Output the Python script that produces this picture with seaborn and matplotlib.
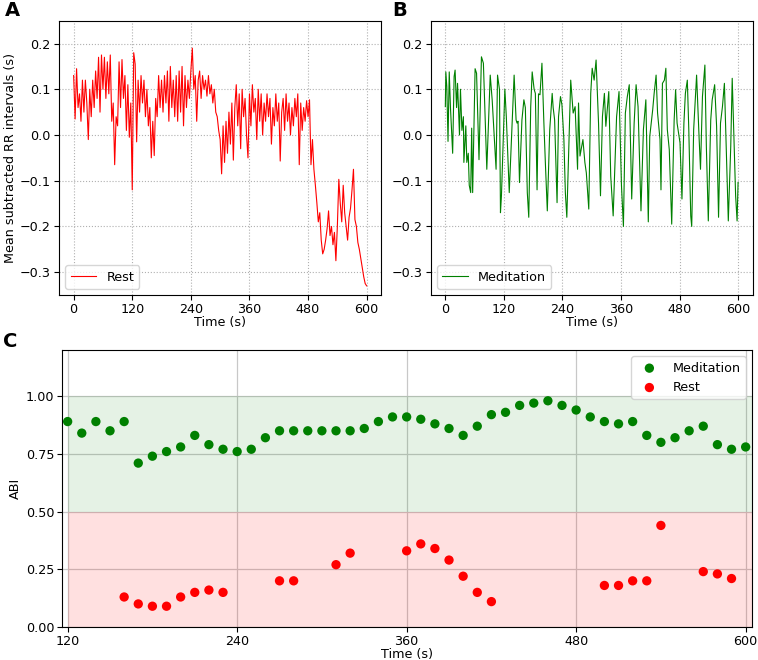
import numpy as np
import pandas as pd
import matplotlib
matplotlib.use("Agg")
import matplotlib.pyplot as plt
import seaborn as sns

# ---------------- data ----------------
rest_time = np.arange(0, 601, 3)
rest_rr = [
    0.13, 0.035, 0.145, 0.06, 0.09, 0.03, 0.12, 0.05, 0.12, 0.07,
    -0.01, 0.10, 0.04, 0.12, 0.06, 0.14, 0.08, 0.17, 0.05, 0.175,
    0.10, 0.17, 0.08, 0.16, 0.09, 0.175, 0.03, 0.07, -0.065, 0.04,
    0.02, 0.16, 0.06, 0.165, 0.08, 0.13, 0.01, 0.11, -0.005, 0.07,
    -0.12, 0.18, 0.155, -0.015, 0.12, 0.05, 0.13, 0.07, 0.12, 0.04,
    0.10, 0.02, 0.06, -0.05, 0.03, -0.045, 0.08, 0.04, 0.13, 0.06,
    0.12, 0.05, 0.13, 0.07, 0.14, 0.03, 0.15, 0.06, 0.12, 0.04,
    0.13, 0.03, 0.14, 0.05, 0.15, 0.02, 0.13, 0.06, 0.12, 0.08,
    0.14, 0.19, 0.10, 0.13, 0.03, 0.12, 0.14, 0.08, 0.13, 0.10,
    0.12, 0.085, 0.13, 0.09, 0.11, 0.07, 0.10, 0.05, 0.04, 0.01,
    -0.01, -0.085, 0.02, -0.06, 0.03, -0.04, 0.05, -0.02, 0.07, -0.055,
    0.06, 0.11, 0.02, 0.09, -0.03, 0.10, 0.04, 0.08, 0.0, -0.05,
    0.09, 0.02, 0.11, 0.05, 0.08, -0.01, 0.10, 0.03, 0.09, 0.0,
    0.07, 0.03, 0.09, 0.04, 0.08, -0.02, 0.06, 0.02, 0.09, 0.03,
    0.07, -0.057, 0.05, 0.08, 0.01, 0.09, 0.03, 0.07, 0.0, 0.06,
    0.02, 0.08, 0.04, 0.09, -0.065, 0.07, 0.01, 0.06, 0.03, 0.075,
    0.04, 0.077, -0.065, -0.01, -0.075, -0.11, -0.148, -0.19, -0.17, -0.23,
    -0.26, -0.25, -0.23, -0.205, -0.166, -0.22, -0.2, -0.24, -0.213, -0.275,
    -0.2, -0.097, -0.15, -0.19, -0.11, -0.17, -0.2, -0.23, -0.18, -0.16,
    -0.12, -0.075, -0.185, -0.2, -0.235, -0.25, -0.27, -0.29, -0.31, -0.325,
    -0.33,
]

med_time = [0, 1, 3, 5.5, 8, 10.5, 15, 18, 20, 23, 25, 29, 31, 34, 37, 38, 42, 44, 47, 49,
            52, 54, 56, 61, 64, 69, 74, 78, 85, 92, 96, 104, 107, 111, 113, 115, 122, 125, 131, 141,
            145, 147, 149, 152, 157, 161, 164, 168, 171, 175, 178, 182, 184.5, 188, 191, 194, 198, 202, 205, 209,
            214, 219, 221, 224, 229, 232, 236, 239, 243, 246, 249, 257, 262, 266, 271, 273, 276, 282, 286, 289,
            294, 298, 301, 305, 309, 312, 314, 318, 322, 326, 329, 333, 335, 339, 344, 351, 356, 361, 365, 369,
            373, 377, 382, 387, 391, 395, 401, 406, 411, 416, 419, 425, 428, 432, 435, 440, 442, 445, 449, 452,
            455, 459, 464, 469, 472, 475, 481, 485, 489, 492, 496, 499, 503, 505, 509, 515, 520, 523, 527, 532,
            535, 539, 544, 547, 552, 556, 560, 564, 568, 572, 576, 580, 585, 588, 591, 595, 598, 600]
med_rr = [0.062, 0.138, 0.106, -0.014, 0.138, 0.06, -0.04, 0.128, 0.142, 0.06, 0.113, 0.0, 0.1, 0.01, 0.04, -0.06, 0.02, -0.06, -0.04, -0.11,
          -0.126, 0.015, -0.126, 0.145, 0.135, -0.054, 0.171, 0.157, -0.075, 0.131, 0.077, -0.075, 0.131, 0.099, -0.17, -0.133, 0.1, 0.04, -0.126, 0.131,
          0.033, 0.026, 0.03, -0.104, 0.033, 0.077, 0.06, -0.126, -0.18, 0.062, 0.138, 0.1, 0.091, -0.12, 0.09, 0.088, 0.157, 0.026, -0.06, -0.166,
          0.012, 0.091, 0.06, 0.033, -0.148, 0.04, 0.084, 0.066, -0.01, -0.126, -0.18, 0.12, 0.048, 0.062, -0.075, 0.07, -0.046, -0.01, -0.06, -0.083,
          -0.162, 0.091, 0.146, 0.12, 0.164, 0.084, 0.026, -0.133, 0.04, 0.091, 0.019, 0.07, 0.095, -0.09, -0.177, 0.04, 0.095, -0.11, -0.2, 0.048,
          0.084, 0.11, -0.14, 0.026, 0.11, 0.062, -0.166, 0.012, 0.077, -0.19, -0.003, 0.055, 0.091, 0.131, 0.048, -0.01, -0.12, 0.113, 0.12, 0.146,
          0.012, -0.032, -0.195, 0.033, 0.099, 0.026, -0.017, -0.14, 0.026, 0.091, 0.12, 0.012, -0.177, -0.2, 0.012, 0.131, -0.003, -0.075, 0.084, 0.153,
          -0.025, -0.188, 0.033, 0.077, 0.11, 0.019, -0.18, 0.026, 0.062, 0.113, -0.04, -0.188, -0.025, 0.124, 0.012, -0.133, -0.188, -0.104]

abi_time = list(range(120, 601, 10))
abi_meditation = [0.89, 0.84, 0.89, 0.85, 0.89, 0.71, 0.74, 0.76, 0.78, 0.83,
                  0.79, 0.77, 0.76, 0.77, 0.82, 0.85, 0.85, 0.85, 0.85, 0.85,
                  0.85, 0.86, 0.89, 0.91, 0.91, 0.90, 0.88, 0.86, 0.83, 0.87,
                  0.92, 0.93, 0.96, 0.97, 0.98, 0.96, 0.94, 0.91, 0.89, 0.88,
                  0.89, 0.83, 0.80, 0.82, 0.85, 0.87, 0.79, 0.77, 0.78]
nan = np.nan
abi_rest = [nan, nan, nan, nan, 0.13, 0.10, 0.09, 0.09, 0.13, 0.15,
            0.16, 0.15, nan, nan, nan, 0.20, 0.20, nan, nan, 0.27,
            0.32, nan, nan, nan, 0.33, 0.36, 0.34, 0.29, 0.22, 0.15,
            0.11, nan, nan, nan, nan, nan, nan, nan, 0.18, 0.18,
            0.20, 0.20, 0.44, nan, nan, 0.24, 0.23, 0.21, nan]

time_ticks = [0, 120, 240, 360, 480, 600]
abi_ticks = [120, 240, 360, 480, 600]

# ---------------- figure ----------------
W, H = 758, 660
fig = plt.figure(figsize=(W / 100, H / 100), dpi=100)

def px_axes(l, t, r, b):
    return fig.add_axes([l / W, 1 - b / H, (r - l) / W, (b - t) / H])

axA = px_axes(59, 20.7, 381.3, 295)
axB = px_axes(430.7, 20.7, 752.7, 295)
axC = px_axes(62, 350, 752, 627)

FS = 9.2

dfA = pd.DataFrame({"t": rest_time, "rr": rest_rr})
dfB = pd.DataFrame({"t": med_time, "rr": med_rr})

sns.lineplot(data=dfA, x="t", y="rr", ax=axA, color="red", lw=0.8, label="Rest")
sns.lineplot(data=dfB, x="t", y="rr", ax=axB, color="green", lw=0.8, label="Meditation")

for ax in (axA, axB):
    ax.set_xlim(-30, 630)
    ax.set_ylim(-0.35, 0.25)
    ax.set_xticks(time_ticks)
    ax.set_yticks([-0.3, -0.2, -0.1, 0.0, 0.1, 0.2])
    ax.grid(True, linestyle=":", color="#b0b0b0", linewidth=0.8)
    ax.set_axisbelow(True)
    ax.set_xlabel("Time (s)", fontsize=FS, labelpad=0)
    ax.tick_params(labelsize=FS, pad=2.5)
    ax.legend(loc="lower left", fontsize=FS)
axA.set_ylabel("Mean subtracted RR intervals (s)", fontsize=FS, labelpad=2)
axB.set_ylabel("")

# panel C
axC.fill_between([120, 604.5], 0.5, 1.0, color="green", alpha=0.1, lw=0)
axC.fill_between([120, 604.5], 0.0, 0.5, color="red", alpha=0.12, lw=0)
dfC = pd.DataFrame({"t": abi_time, "Meditation": abi_meditation, "Rest": abi_rest})
sns.scatterplot(data=dfC, x="t", y="Meditation", ax=axC, color="green", s=45,
                edgecolor="none", label="Meditation", zorder=3)
sns.scatterplot(data=dfC.dropna(), x="t", y="Rest", ax=axC, color="red", s=45,
                edgecolor="none", label="Rest", zorder=3)
axC.set_xlim(116, 604.5)
axC.set_ylim(0, 1.2)
axC.set_xticks(abi_ticks)
axC.set_yticks([0.0, 0.25, 0.5, 0.75, 1.0])
axC.set_yticklabels(["0.00", "0.25", "0.50", "0.75", "1.00"])
axC.grid(True, color="#c8c8c8", linewidth=0.9)
axC.set_axisbelow(True)
axC.set_xlabel("Time (s)", fontsize=FS, labelpad=0)
axC.set_ylabel("ABI", fontsize=FS, labelpad=3)
axC.tick_params(labelsize=FS, pad=2)
axC.legend(loc="upper right", fontsize=FS)

fig.text(5 / W, 1 - 11 / H, "A", fontsize=14, fontweight="bold", va="center")
fig.text(392 / W, 1 - 11 / H, "B", fontsize=14, fontweight="bold", va="center")
fig.text(3 / W, 1 - 341 / H, "C", fontsize=14, fontweight="bold", va="center")

fig.savefig("out.png", dpi=100)
